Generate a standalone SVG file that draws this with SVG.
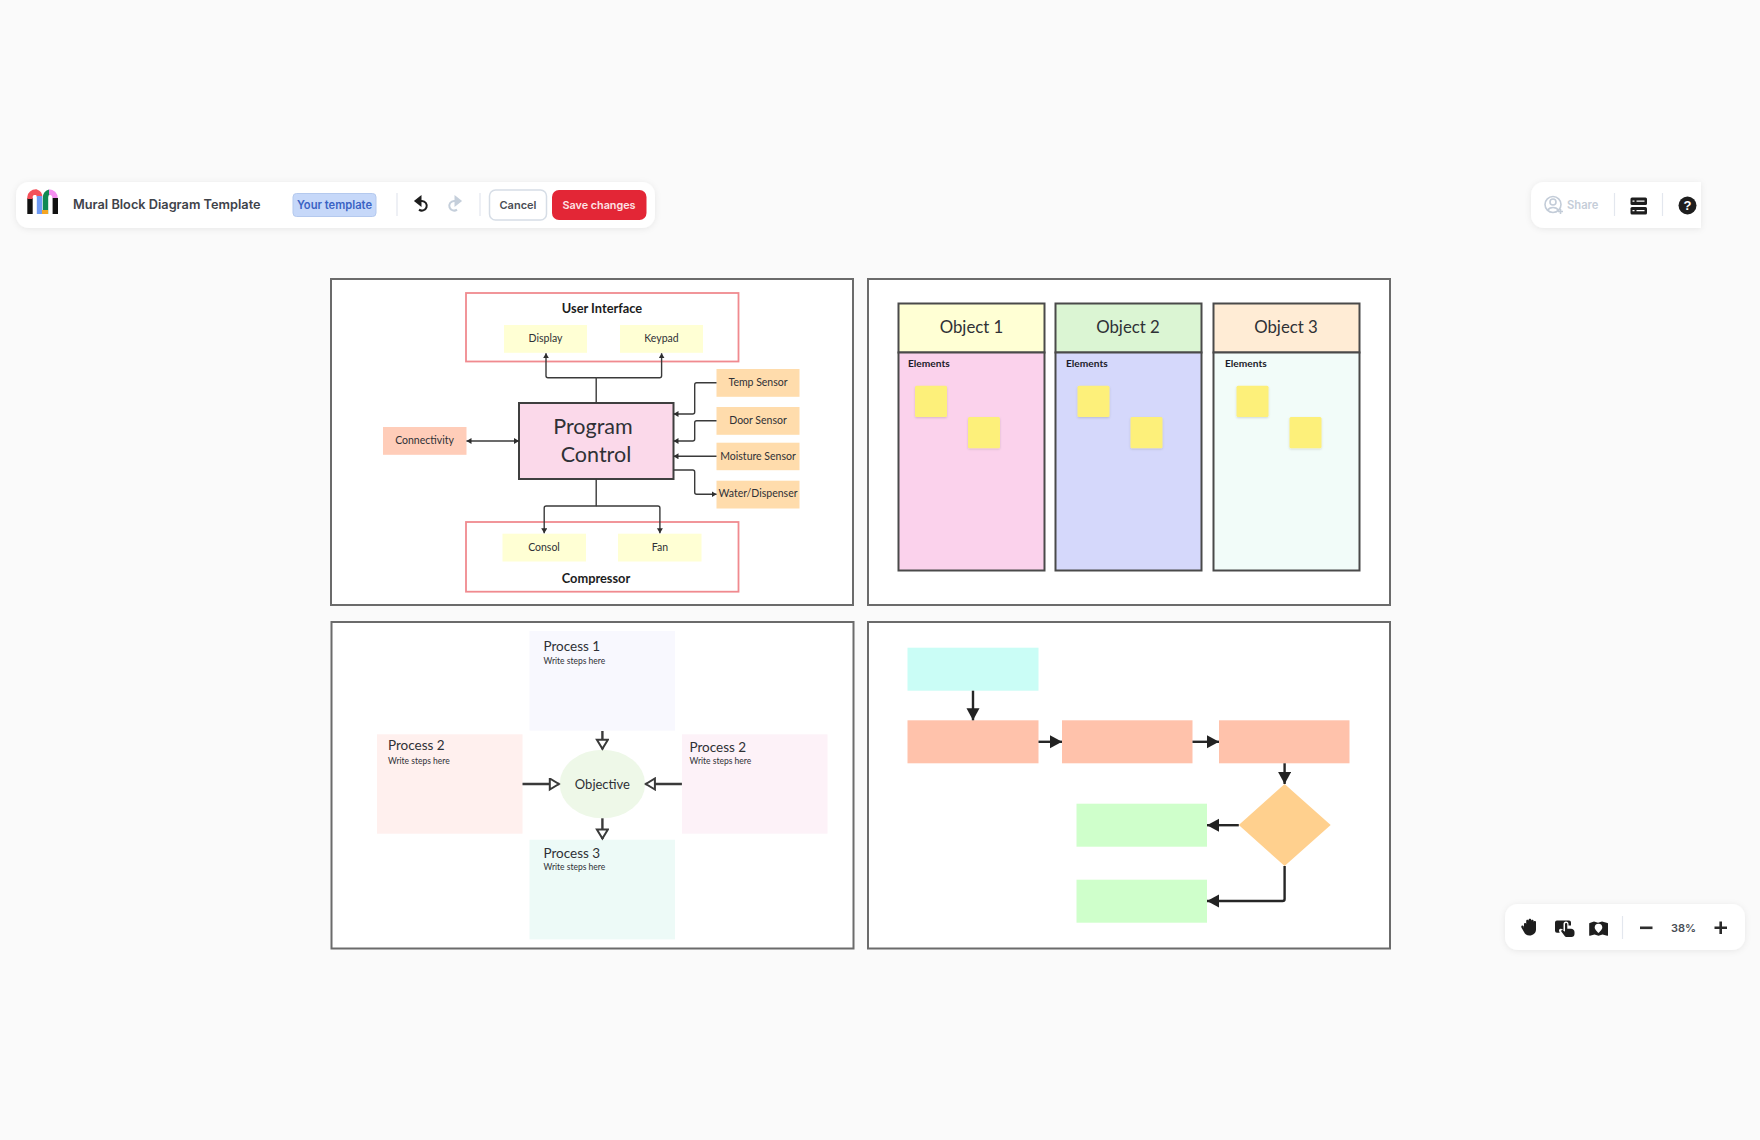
<svg xmlns="http://www.w3.org/2000/svg" width="1760" height="1140" viewBox="0 0 1760 1140">
<style>
text{font-family:"Lato","Open Sans","Liberation Sans",sans-serif;fill:#2f3136}
.ui{font-family:"Inter","Liberation Sans",sans-serif;font-weight:600}
.panel{fill:#fff;stroke:#6b6b6b;stroke-width:2}
.l{fill:none;stroke:#3a3a3a;stroke-width:1.4;stroke-linejoin:round}
.sec{fill:#fff;stroke:#f08a8f;stroke-width:1.8}
.ylw{fill:#ffffd4}.org{fill:#ffdcac}
.lbl{font-size:10.5px;text-anchor:middle}
.hd{font-size:12.8px;font-weight:700;text-anchor:middle;fill:#1c1c1c}
.obj{font-size:16.8px;text-anchor:middle}
.el{font-size:10.2px;font-weight:700;fill:#1c1c2a}
.col{stroke:#4a4a4a;stroke-width:2}
.st{fill:#fdf07a;filter:url(#ss)}
.pt{font-size:13.5px}.ps{font-size:8.5px}
.ha{fill:none;stroke:#3a3a3a;stroke-width:2.4;marker-end:url(#hol)}
.fa{fill:none;stroke:#262626;stroke-width:2.4;stroke-linejoin:round;marker-end:url(#sol)}
.bar{fill:#fff;filter:url(#bs)}
.dv{stroke:#e3e7ee;stroke-width:1.2}
.ic{fill:#1e1e1e}
</style>
<defs>
<filter id="bs" x="-10%" y="-30%" width="120%" height="170%"><feDropShadow dx="0" dy="1" stdDeviation="3" flood-color="#000" flood-opacity=".08"/></filter>
<filter id="ss" x="-30%" y="-30%" width="160%" height="160%"><feDropShadow dx="0" dy="1" stdDeviation="1.2" flood-color="#000" flood-opacity=".14"/></filter>
<marker id="sm" markerUnits="userSpaceOnUse" markerWidth="7" markerHeight="7" refX="5" refY="3" orient="auto-start-reverse"><path d="M0 0L5 3L0 6Z" fill="#2e2e2e"/></marker>
<marker id="hol" markerUnits="userSpaceOnUse" markerWidth="14" markerHeight="14" refX="11" refY="6.5" orient="auto"><path d="M1.5 1L10.5 6.5L1.5 12Z" fill="#fff" stroke="#3a3a3a" stroke-width="2"/></marker>
<marker id="sol" markerUnits="userSpaceOnUse" markerWidth="14" markerHeight="14" refX="12" refY="6.5" orient="auto"><path d="M0 0L12 6.5L0 13Z" fill="#222"/></marker>
</defs>
<rect width="1760" height="1140" fill="#fafafa"/>

<g id="toolbar">
<rect class="bar" x="16" y="182" width="639" height="46" rx="13"/>
<g id="logo" fill="none" stroke-width="5.4">
<path d="M30 214V198" stroke="#111"/>
<path d="M30 199V197a6 5 0 0 1 6-5a6 5 0 0 1 3.500 5" stroke="#f4505a"/>
<path d="M39.500 196V214" stroke="#6f9bf5"/>
<path d="M45.500 214V198a5.500 5.500 0 0 1 4-6" stroke="#0f8a52"/>
<path d="M49 192a6 6 0 0 1 6 6" stroke="#f58ff0"/>
<path d="M55.300 198V214" stroke="#111"/>
<rect x="42" y="210" width="6" height="4" fill="#f5a623" stroke="none"/>
</g>
<text class="ui" x="73" y="209" font-size="12.750" style="fill:#3f434a">Mural Block Diagram Template</text>
<rect x="293" y="193.500" width="83" height="23" rx="3.500" fill="#c6d8f9" stroke="#b4c9ee"/>
<text class="ui" x="334.500" y="209" font-size="11.200" text-anchor="middle" style="fill:#3a63c4">Your template</text>
<path class="dv" d="M397 193V216M480 193V216"/>
<g id="undo" fill="none" stroke="#1e1e1e" stroke-width="2"><path d="M417 201h5a4.800 4.800 0 1 1-3 8.600"/><path d="M420.500 197L415.500 201L420.500 205Z" fill="#1e1e1e"/></g>
<g id="redo" fill="none" stroke="#c5cfdb" stroke-width="2"><path d="M459 201h-5a4.800 4.800 0 1 0 3 8.600"/><path d="M455.500 197L460.500 201L455.500 205Z" fill="#c5cfdb"/></g>
<rect x="489.500" y="190" width="57" height="30" rx="6" fill="#fff" stroke="#d6dde6" stroke-width="1.500"/>
<text class="ui" x="518" y="209" font-size="11" text-anchor="middle" style="fill:#4a4e55">Cancel</text>
<rect x="552" y="190" width="94.500" height="30" rx="7" fill="#e32636"/>
<text class="ui" x="599" y="209" font-size="10.800" text-anchor="middle" style="fill:#fde3e5">Save changes</text>
</g>

<g id="share-bar">
<path class="bar" d="M1701 182H1544a13 13 0 0 0-13 13V215a13 13 0 0 0 13 13H1701Z"/>
<g fill="none" stroke="#c3ccd8" stroke-width="1.600"><circle cx="1553" cy="204.500" r="8"/><circle cx="1553" cy="202" r="3"/><path d="M1547.500 210.500a6 5 0 0 1 11 0"/><path d="M1558 211.500h5M1560.500 209v5"/></g>
<text class="ui" x="1567" y="209" font-size="11.200" style="fill:#c5cdd8">Share</text>
<path class="dv" d="M1614.500 193V216M1662.500 193V216"/>
<rect class="ic" x="1630.500" y="197.500" width="16.500" height="7.500" rx="1.500"/><rect class="ic" x="1630.500" y="207" width="16.500" height="7.500" rx="1.500"/>
<path d="M1632.500 201.200h2M1636.500 201.200h8M1632.500 210.700h2M1636.500 210.700h8" stroke="#fff" stroke-width="1.300"/>
<circle class="ic" cx="1687.500" cy="205.500" r="9"/>
<text x="1687.500" y="210" font-size="13" font-weight="700" text-anchor="middle" style="fill:#fff;font-family:'Liberation Sans',sans-serif">?</text>
</g>

<g id="zoom-bar">
<rect class="bar" x="1505" y="904" width="240" height="46" rx="13"/>
<path class="ic" transform="translate(2 1)" d="M1522 923c0-1.500 2.200-1.500 2.200 0V920c0-1.600 2.400-1.600 2.400 0V919c0-1.600 2.600-1.600 2.600 0v.8c0-1.500 2.400-1.500 2.400 0V921c0-1.400 2.400-1.400 2.400 0v7.500c0 3.500-3 6-6.500 6c-3 0-4.500-1.200-5.500-3.500l-2.600-4.600c-.7-1.500 1.300-2.500 2.200-1.300L1522 927Z"/>
<g transform="translate(0 1)">
<path class="ic" d="M1557 919.500h12a2 2 0 0 1 2 2v3h-2.500v-1.500a2.500 2.500 0 0 0-5 0v6l-2-1c-1.800-.6-3 1-2.300 2.500l.6 1.300h-2.800a2 2 0 0 1-2-2v-8.300a2 2 0 0 1 2-2Z"/>
<path class="ic" d="M1565 923.200c0-1.500 2.300-1.500 2.300 0v4.500h3.700c2 0 3.500 1.400 3.500 3.300v2c0 1.800-1.300 3-3 3h-4.500c-1.200 0-2-.5-2.700-1.500l-3-4c-.7-1.100.8-2.200 1.800-1.200l1.900 1.500Z"/>
</g>
<path class="ic" transform="translate(2 1)" fill-rule="evenodd" d="M1592 920.500l4 1.300l4-1.300l5.500 1.500c.3 0 .5.300.5.600v11.600c0 .4-.4.700-.8.500l-4.700-1.200l-4 1.300l-4-1.300l-4.500 1.200c-.4.100-.8-.1-.8-.5v-11.600c0-.3.200-.5.500-.6ZM1596.500 922.800a3.800 3.800 0 0 0-3.800 3.800c0 2.300 3.800 5.400 3.800 5.400s3.800-3.100 3.800-5.400a3.800 3.800 0 0 0-3.800-3.800Z"/>
<path class="dv" d="M1622.500 916V939"/>
<rect class="ic" x="1640" y="926.500" width="12.500" height="2.600" style="fill:#2e2e2e"/>
<text class="ui" x="1683.500" y="932" font-size="11" text-anchor="middle" style="fill:#4a4e55">38%</text>
<path d="M1714.500 927.800h12.500M1720.700 921.500v12.500" stroke="#2a2a2a" stroke-width="2.600"/>
</g>

<rect class="panel" x="331" y="279" width="522" height="326"/>
<rect class="panel" x="868" y="279" width="522" height="326"/>
<rect class="panel" x="331.500" y="622" width="522" height="326.500"/>
<rect class="panel" x="868" y="622" width="522" height="326.500"/>

<g id="user-interface"><rect class="sec" x="466" y="293" width="272.500" height="68.500"/><text class="hd" x="602" y="313">User Interface</text></g>
<g id="display"><rect class="ylw" x="504" y="325" width="83" height="27.800"/><text class="lbl" x="545.500" y="342">Display</text></g>
<g id="keypad"><rect class="ylw" x="620" y="325" width="83" height="27.800"/><text class="lbl" x="661.500" y="342">Keypad</text></g>
<g id="program-control"><rect x="519" y="403" width="154.500" height="76" fill="#fbd9ea" stroke="#3f3f3f" stroke-width="2"/><text x="593" y="434" font-size="21.500" text-anchor="middle">Program</text><text x="596" y="462" font-size="21.500" text-anchor="middle">Control</text></g>
<g id="connectivity"><rect x="383" y="427" width="83.500" height="27.800" fill="#ffcdb9"/><text class="lbl" x="424.500" y="444.300">Connectivity</text></g>
<g id="temp-sensor"><rect class="org" x="716.500" y="369" width="83" height="27.800"/><text class="lbl" x="758" y="386.300">Temp Sensor</text></g>
<g id="door-sensor"><rect class="org" x="716.500" y="407" width="83" height="27.800"/><text class="lbl" x="758" y="424">Door Sensor</text></g>
<g id="moisture-sensor"><rect class="org" x="716.500" y="442.700" width="83" height="27.500"/><text class="lbl" x="758" y="459.700">Moisture Sensor</text></g>
<g id="water-dispenser"><rect class="org" x="716.500" y="480.700" width="83" height="27.800"/><text class="lbl" x="758" y="497.300">Water/Dispenser</text></g>
<g id="compressor"><rect class="sec" x="466" y="522" width="272.500" height="69.700"/><text class="hd" x="596" y="582.500">Compressor</text></g>
<g id="consol"><rect class="ylw" x="502.500" y="533.700" width="83.500" height="27.800"/><text class="lbl" x="544" y="550.700">Consol</text></g>
<g id="fan"><rect class="ylw" x="618" y="533.700" width="83.500" height="27.800"/><text class="lbl" x="660" y="550.700">Fan</text></g>

<g id="connectors-block">
<path class="l" marker-end="url(#sm)" d="M596.200 403V377.700H548a2 2 0 0 1-2-2V353.300"/>
<path class="l" marker-end="url(#sm)" d="M596.200 377.700H659.600a2 2 0 0 0 2-2V353.300"/>
<path class="l" marker-end="url(#sm)" d="M716.500 382.700H696.700a2 2 0 0 0-2 2V412a2 2 0 0 1-2 2H673.500"/>
<path class="l" marker-end="url(#sm)" d="M716.500 420.700H696.700a2 2 0 0 0-2 2V439a2 2 0 0 1-2 2H673.500"/>
<path class="l" marker-end="url(#sm)" d="M716.500 456.300H673.500"/>
<path class="l" marker-end="url(#sm)" d="M673.500 470H692.700a2 2 0 0 1 2 2V492.300a2 2 0 0 0 2 2H716.500"/>
<path class="l" marker-start="url(#sm)" marker-end="url(#sm)" d="M466.500 441H519"/>
<path class="l" marker-end="url(#sm)" d="M596.200 479V506H546.200a2 2 0 0 0-2 2V533.300"/>
<path class="l" marker-end="url(#sm)" d="M596.200 506H657.900a2 2 0 0 1 2 2V533.300"/>
</g>

<g id="object-1"><rect class="col" x="898.500" y="303.500" width="146" height="49" fill="#ffffd4"/><rect class="col" x="898.500" y="352.500" width="146" height="218" fill="#fbd2ec"/><text class="obj" x="971.500" y="333.300">Object 1</text><text class="el" x="908" y="367">Elements</text><rect class="st" x="915" y="385.700" width="32" height="31.300" rx="1.500"/><rect class="st" x="968" y="417" width="32" height="31.300" rx="1.500"/></g>
<g id="object-2"><rect class="col" x="1055.500" y="303.500" width="146" height="49" fill="#dbf5d3"/><rect class="col" x="1055.500" y="352.500" width="146" height="218" fill="#d5d8fb"/><text class="obj" x="1128" y="333.300">Object 2</text><text class="el" x="1066" y="367">Elements</text><rect class="st" x="1077.500" y="385.700" width="32" height="31.300" rx="1.500"/><rect class="st" x="1130.500" y="417" width="32" height="31.300" rx="1.500"/></g>
<g id="object-3"><rect class="col" x="1213.500" y="303.500" width="146" height="49" fill="#ffecd5"/><rect class="col" x="1213.500" y="352.500" width="146" height="218" fill="#f2fcf9"/><text class="obj" x="1286" y="333.300">Object 3</text><text class="el" x="1225" y="367">Elements</text><rect class="st" x="1236.500" y="385.700" width="32" height="31.300" rx="1.500"/><rect class="st" x="1289.500" y="417" width="32" height="31.300" rx="1.500"/></g>

<g id="process-1"><rect x="529.500" y="631" width="145.500" height="99.700" fill="#f8f8fe"/><text class="pt" x="543.500" y="651">Process 1</text><text class="ps" x="543.500" y="663.500">Write steps here</text></g>
<g id="process-2-left"><rect x="377" y="734.300" width="145.500" height="99.400" fill="#fff0ee"/><text class="pt" x="388" y="750.300">Process 2</text><text class="ps" x="388" y="763.700">Write steps here</text></g>
<g id="process-2-right"><rect x="682" y="734.300" width="145.500" height="99.400" fill="#fdf2f8"/><text class="pt" x="689.500" y="751.500">Process 2</text><text class="ps" x="689.500" y="763.700">Write steps here</text></g>
<g id="process-3"><rect x="529.500" y="839.700" width="145.500" height="99.700" fill="#edfaf7"/><text class="pt" x="543.500" y="857.700">Process 3</text><text class="ps" x="543.500" y="870">Write steps here</text></g>
<g id="objective"><ellipse cx="602.400" cy="784" rx="42.700" ry="34.300" fill="#eef8e8"/><text x="602.400" y="788.500" font-size="13" text-anchor="middle">Objective</text></g>
<g id="connectors-process">
<path class="ha" d="M602.400 731V749.300"/>
<path class="ha" d="M602.400 818.300V839"/>
<path class="ha" d="M522.500 784H559.300"/>
<path class="ha" d="M681.900 784H645.400"/>
</g>

<g id="start"><rect x="907.500" y="647.700" width="131" height="43" fill="#cafdf6"/></g>
<g id="step-1"><rect x="907.500" y="720.300" width="131" height="43" fill="#ffc2ab"/></g>
<g id="step-2"><rect x="1062" y="720.300" width="130.500" height="43" fill="#ffc2ab"/></g>
<g id="step-3"><rect x="1219" y="720.300" width="130.500" height="43" fill="#ffc2ab"/></g>
<g id="decision"><polygon points="1284.600,784 1330.700,825 1284.600,866 1238.800,825" fill="#ffd08e"/></g>
<g id="result-1"><rect x="1076.500" y="803.700" width="130.500" height="43" fill="#cfffcb"/></g>
<g id="result-2"><rect x="1076.500" y="879.700" width="130.500" height="43" fill="#cfffcb"/></g>
<g id="connectors-flow">
<path class="fa" d="M973 690.700V720.300"/>
<path class="fa" d="M1038.500 741.800H1062"/>
<path class="fa" d="M1192.500 741.800H1219"/>
<path class="fa" d="M1284.600 763.300V784"/>
<path class="fa" d="M1238.800 825.200H1207"/>
<path class="fa" d="M1284.600 866V899a2 2 0 0 1-2 2H1207"/>
</g>
</svg>
